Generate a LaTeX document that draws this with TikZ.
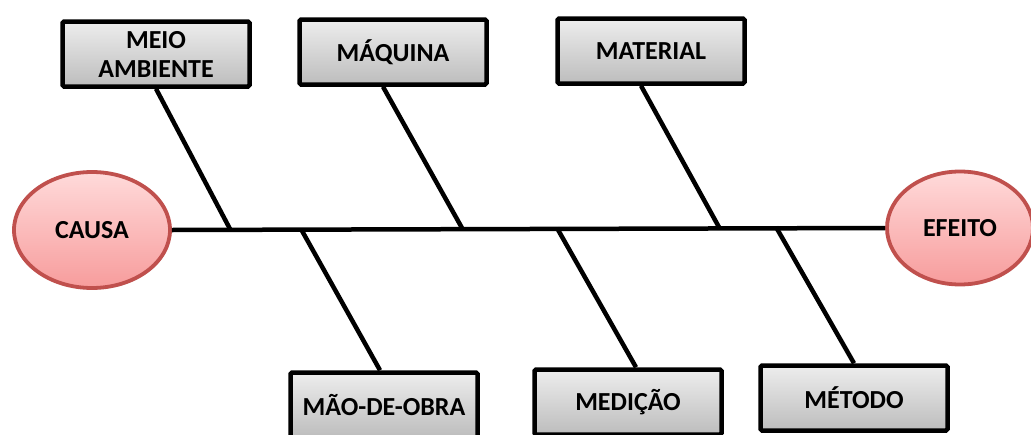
\documentclass[tikz,border=0pt]{standalone}
\usepackage{fontspec}
\setmainfont{Carlito}
\usetikzlibrary{shapes.geometric,shadows}

\definecolor{borda}{HTML}{C0504D}
\definecolor{rosaclaro}{HTML}{FFDADA}
\definecolor{rosa}{HTML}{F79C9C}

\tikzset{
	caixa/.style={draw=black,line width=4.5pt,rounded corners=1.5pt,top color=gray!14,bottom color=gray!52,
		minimum width=187pt,minimum height=65pt,inner sep=0pt,align=center,
		font=\bfseries\fontsize{26}{29}\selectfont,
		drop shadow={opacity=0.3,shadow xshift=1.5pt,shadow yshift=-1.5pt}},
	elipse/.style={ellipse,draw=borda,line width=3.8pt,top color=rosaclaro,bottom color=rosa,inner sep=0pt,
		font=\bfseries\fontsize{26}{29}\selectfont,
		drop shadow={opacity=0.25,shadow xshift=1pt,shadow yshift=-1.5pt}},
	espinha/.style={line width=4.5pt,black}
}

\begin{document}
\begin{tikzpicture}[x=1pt,y=-1pt]
			\useasboundingbox (0,0) rectangle (1031,434);
			
			% Head and tail
			\node[elipse,minimum width=156pt,minimum height=116pt] (causa) at (92,230) {CAUSA};
			\node[elipse,minimum width=146pt,minimum height=113pt] (efeito) at (960,228) {EFEITO};
			
			% Boxes
			\node[caixa] (meio) at (156,54) {MEIO\\AMBIENTE};
			\node[caixa] (maq) at (393,52) {MÁQUINA};
			\node[caixa] (mat) at (651,51) {MATERIAL};
			\node[caixa] (mao) at (384,405) {MÃO-DE-OBRA};
			\node[caixa] (med) at (628,402) {MEDIÇÃO};
			\node[caixa] (met) at (854,398) {MÉTODO};
			
			% Spine
			\draw[espinha] (causa.east) -- (efeito.west);
			
			% Points on the spine
			\coordinate (j1) at (230,229);
			\coordinate (j2) at (462,228);
			\coordinate (j3) at (720,229);
			\coordinate (k1) at (301,229);
			\coordinate (k2) at (557,228);
			\coordinate (k3) at (776,227);
			
			% Branches
			\draw[espinha] (meio.south) -- (j1);
			\draw[espinha] ([xshift=-10pt]maq.south) -- (j2);
			\draw[espinha] ([xshift=-10pt]mat.south) -- (j3);
			\draw[espinha] (k1) -- ([xshift=-4pt]mao.north);
			\draw[espinha] (k2) -- ([xshift=8pt]med.north);
			\draw[espinha] (k3) -- (met.north);
			
		\end{tikzpicture}
\end{document}
